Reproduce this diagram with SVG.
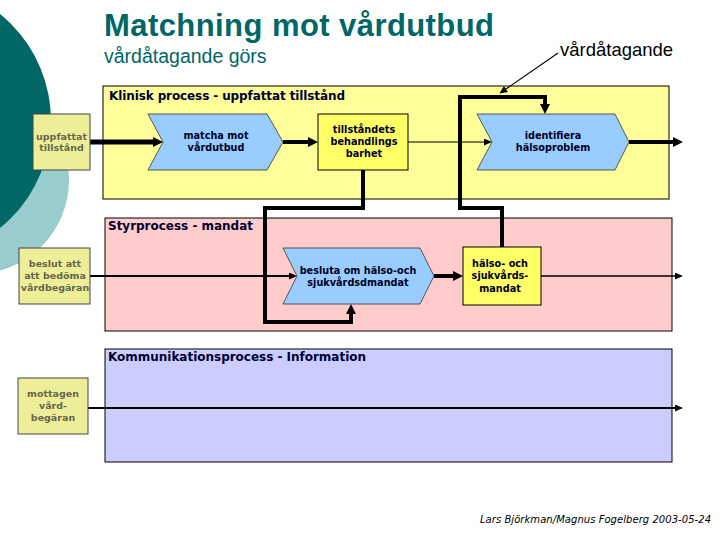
<svg xmlns="http://www.w3.org/2000/svg" width="720" height="540" viewBox="0 0 720 540">
<defs>
<style>
.panel{stroke:#000;stroke-width:1}
.ptitle{font-family:"DejaVu Sans",Verdana,sans-serif;font-weight:bold;font-size:12px;fill:#000033}
.chev{fill:#99CCFF;stroke:#333;stroke-width:0.8}
.ybox{fill:#FFFF66;stroke:#000;stroke-width:1}
.lbox{fill:#EEEE99;stroke:#444;stroke-width:1}
.nt{font-family:"DejaVu Sans",Verdana,sans-serif;font-weight:bold;font-size:9.7px;fill:#000022;text-anchor:middle}
.lt{font-family:"DejaVu Sans",Verdana,sans-serif;font-weight:bold;font-size:9.5px;fill:#66664d;text-anchor:middle}
.c{fill:none;stroke:#000;stroke-linejoin:miter}
</style>
<marker id="big" markerUnits="userSpaceOnUse" markerWidth="10" markerHeight="10" refX="0" refY="5" orient="auto"><path d="M0,0 L10,5 L0,10 Z" fill="#000"/></marker>
<marker id="sm" markerUnits="userSpaceOnUse" markerWidth="8" markerHeight="7" refX="0" refY="3.5" orient="auto"><path d="M0,0 L8,3.5 L0,7 Z" fill="#000"/></marker>
</defs>
<rect width="720" height="540" fill="#fff"/>
<g id="background">
<circle cx="-25" cy="180" r="94" fill="#99CCCC"/>
<circle cx="-87" cy="121" r="138" fill="#006666"/>
</g>
<g id="titles">
<text x="104" y="36" font-family="Liberation Sans,Arial,sans-serif" font-weight="bold" font-size="31" fill="#006666" textLength="390">Matchning mot vårdutbud</text>
<text x="104" y="63" font-family="Liberation Sans,Arial,sans-serif" font-size="19.5" fill="#006666">vårdåtagande görs</text>
<text x="560" y="56" font-family="Liberation Sans,Arial,sans-serif" font-size="18.5" fill="#000">vårdåtagande</text>
<text x="480" y="523" font-family="DejaVu Sans,Verdana,sans-serif" font-style="italic" font-size="10" fill="#000" textLength="231">Lars Björkman/Magnus Fogelberg 2003-05-24</text>
</g>
<g id="panel-klinisk">
<rect class="panel" x="103" y="86" width="566" height="113" fill="#FFFF99"/>
<text class="ptitle" x="109" y="100" textLength="236">Klinisk process - uppfattat tillstånd</text>
</g>
<g id="panel-styr">
<rect class="panel" x="105" y="218" width="567" height="113" fill="#FFCCCC"/>
<text class="ptitle" x="108" y="230" textLength="145">Styrprocess - mandat</text>
</g>
<g id="panel-komm">
<rect class="panel" x="105" y="349" width="567" height="113" fill="#CCCCFF"/>
<text class="ptitle" x="108" y="361" textLength="258">Kommunikationsprocess - Information</text>
</g>
<g id="connectors">
<line class="c" x1="90" y1="142" x2="153" y2="142" stroke-width="5" marker-end="url(#big)"/>
<line class="c" x1="283" y1="142" x2="308" y2="142" stroke-width="4" marker-end="url(#big)"/>
<line class="c" x1="408" y1="142" x2="484" y2="142" stroke-width="1.2" marker-end="url(#sm)"/>
<line class="c" x1="629" y1="142" x2="673" y2="142" stroke-width="4" marker-end="url(#big)"/>
<path class="c" d="M502,247 V208 H460 V97 H545 V104" stroke-width="4" marker-end="url(#big)"/>
<path class="c" d="M363,170 V208 H265 V322 H351 V314" stroke-width="4" marker-end="url(#big)"/>
<line class="c" x1="90" y1="276" x2="289" y2="276" stroke-width="2" marker-end="url(#sm)"/>
<line class="c" x1="434" y1="276" x2="453" y2="276" stroke-width="4" marker-end="url(#big)"/>
<line class="c" x1="541" y1="276" x2="675" y2="276" stroke-width="1.5" marker-end="url(#sm)"/>
<line class="c" x1="88" y1="408" x2="675" y2="408" stroke-width="2" marker-end="url(#sm)"/>
<line class="c" x1="558" y1="53" x2="506" y2="89" stroke-width="1.2" marker-end="url(#sm)"/>
</g>
<g id="node-uppfattat">
<rect class="lbox" x="33" y="114" width="57" height="56"/>
<text class="lt" x="61.5" y="140">uppfattat</text>
<text class="lt" x="61.5" y="151">tillstånd</text>
</g>
<g id="node-matcha">
<path class="chev" d="M148,114 L267,114 L283,142 L267,170 L148,170 L163,142 Z"/>
<text class="nt" x="216" y="139">matcha mot</text>
<text class="nt" x="216" y="151">vårdutbud</text>
</g>
<g id="node-tillstandets">
<rect class="ybox" x="318" y="114" width="90" height="56"/>
<text class="nt" x="364" y="133">tillståndets</text>
<text class="nt" x="364" y="145">behandlings</text>
<text class="nt" x="364" y="157">barhet</text>
</g>
<g id="node-identifiera">
<path class="chev" d="M477,114 L615,114 L629,142 L615,170 L477,170 L492,142 Z"/>
<text class="nt" x="553" y="139">identifiera</text>
<text class="nt" x="553" y="151">hälsoproblem</text>
</g>
<g id="node-beslut-att">
<rect class="lbox" x="19" y="248" width="71" height="56"/>
<text class="lt" x="55" y="267">beslut att</text>
<text class="lt" x="55" y="279">att bedöma</text>
<text class="lt" x="55" y="291">vårdbegäran</text>
</g>
<g id="node-besluta">
<path class="chev" d="M283,248 L420,248 L434,276 L420,304 L283,304 L297,276 Z"/>
<text class="nt" x="358" y="274">besluta om hälso-och</text>
<text class="nt" x="358" y="286">sjukvårdsdmandat</text>
</g>
<g id="node-mandat">
<rect class="ybox" x="463" y="247" width="78" height="58"/>
<text class="nt" x="500" y="267">hälso- och</text>
<text class="nt" x="500" y="279">sjukvårds-</text>
<text class="nt" x="500" y="292">mandat</text>
</g>
<g id="node-mottagen">
<rect class="lbox" x="18" y="378" width="70" height="56"/>
<text class="lt" x="53" y="397">mottagen</text>
<text class="lt" x="53" y="409">vård-</text>
<text class="lt" x="53" y="421">begäran</text>
</g>
</svg>
